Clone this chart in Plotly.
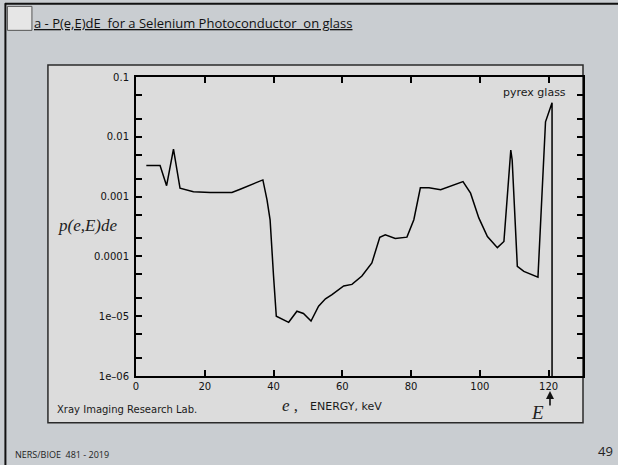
import plotly.graph_objects as go

energy_kev = [3.0, 7.0, 8.9, 10.9, 12.8, 16.7, 21.6, 27.9, 30.3, 36.9, 38.1, 39.0, 40.0,
              40.8, 44.4, 46.8, 48.7, 50.9, 53.1, 55.1, 57.0, 59.2, 60.4, 62.8, 65.7,
              68.6, 70.9, 72.5, 75.4, 78.8, 80.8, 82.7, 85.2, 88.6, 92.5, 95.1, 97.3,
              99.7, 102.2, 105.1, 107.0, 109.0, 109.4, 110.9, 112.8, 116.9, 119.1,
              120.8, 121.0, 121.0]
prob = [3.3e-3, 3.3e-3, 1.52e-3, 6.2e-3, 1.38e-3, 1.21e-3, 1.17e-3, 1.17e-3, 1.33e-3,
        1.9e-3, 8.8e-4, 4.1e-4, 4.7e-5, 1.0e-5, 7.9e-6, 1.21e-5, 1.11e-5, 8.3e-6,
        1.47e-5, 1.95e-5, 2.3e-5, 2.8e-5, 3.2e-5, 3.4e-5, 4.7e-5, 7.8e-5, 2.08e-4,
        2.3e-4, 2.0e-4, 2.1e-4, 4.1e-4, 1.4e-3, 1.4e-3, 1.3e-3, 1.57e-3, 1.78e-3,
        1.14e-3, 4.4e-4, 2.15e-4, 1.4e-4, 1.78e-4, 6.0e-3, 4.1e-3, 6.8e-5, 5.6e-5,
        4.5e-5, 1.78e-2, 3.7e-2, 3.7e-2, 1.0e-6]

x_ticks = [0, 20, 40, 60, 80, 100, 120]
y_tickvals = [1e-6, 1e-5, 1e-4, 1e-3, 1e-2, 1e-1]
y_ticktext = ["1e\u201306", "1e\u201305", "0.0001", "0.001", "0.01", "0.1"]
y_minor_vals = [2e-6, 5e-6, 2e-5, 5e-5, 2e-4, 5e-4, 2e-3, 5e-3, 2e-2, 5e-2]
incident_energy = 120

W, H = 618, 465
L, R, T, B = 136, 35.3, 76.7, 89
PW, PH = W - L - R, H - T - B


def px(x):
    return (x - L) / PW


def py(y):
    return (H - B - y) / PH


fig = go.Figure()
fig.add_trace(go.Scatter(x=energy_kev, y=prob, mode="lines",
                         line=dict(color="black", width=1.5), showlegend=False,
                         hoverinfo="skip"))

axis_common = dict(showline=True, linecolor="black", linewidth=1.6, mirror="allticks",
                   ticks="inside", ticklen=6, tickwidth=2, tickcolor="black",
                   showgrid=False, zeroline=False,
                   tickfont=dict(family="DejaVu Sans", size=10, color="#111111"))

all_y_vals = y_tickvals + y_minor_vals
all_y_text = [t + "\u00a0" for t in y_ticktext] + [""] * len(y_minor_vals)

fig.update_layout(
    xaxis=dict(range=[0, 130], tickvals=x_ticks, **axis_common),
    yaxis=dict(type="log", range=[-6, -1], tickvals=all_y_vals, ticktext=all_y_text,
               **axis_common),
)

shapes = [
    # outer chart panel
    dict(type="rect", xref="paper", yref="paper", x0=px(48), x1=px(582.7), y0=py(422.7),
         y1=py(64.7), fillcolor="#dcdcdc", line=dict(color="#2a2a2a", width=1.5),
         layer="below"),
    # slide frame top and left
    dict(type="line", xref="paper", yref="paper", x0=px(5), x1=px(618), y0=py(3.5),
         y1=py(3.5), line=dict(color="#111", width=2)),
    dict(type="line", xref="paper", yref="paper", x0=px(5.5), x1=px(5.5), y0=py(3),
         y1=py(465), line=dict(color="#111", width=2)),
    # icon
    dict(type="rect", xref="paper", yref="paper", x0=px(7.5), x1=px(32), y0=py(30),
         y1=py(6), fillcolor="#e6e6e6", line=dict(color="#555", width=1)),
]

annotations = [
    dict(text="<u>a - P(e,E)dE  for a Selenium Photoconductor  on glass</u>",
         x=px(32), y=py(23), xanchor="left", yanchor="middle",
         font=dict(family="Open Sans", size=13, color="#111")),
    dict(text="pyrex glass", x=px(534), y=py(92), xanchor="center", yanchor="middle",
         font=dict(family="DejaVu Sans", size=11, color="#1a1a1a")),
    dict(text="<i>p(e,E)de</i>", x=px(88), y=py(225), xanchor="center", yanchor="middle",
         font=dict(family="Liberation Serif", size=17, color="#222")),
    dict(text="Xray Imaging Research Lab.", x=px(55), y=py(410), xanchor="left",
         yanchor="middle", font=dict(family="DejaVu Sans", size=10, color="#1a1a1a")),
    dict(text="<i>e</i> ,", x=px(280), y=py(406), xanchor="left", yanchor="middle",
         font=dict(family="Liberation Serif", size=17, color="#222")),
    dict(text="ENERGY, keV", x=px(308), y=py(407), xanchor="left", yanchor="middle",
         font=dict(family="DejaVu Sans", size=11, color="#1a1a1a")),
    dict(text="<i>E</i>", x=px(537.5), y=py(413), xanchor="center", yanchor="middle",
         font=dict(family="Liberation Serif", size=19, color="#222")),
    dict(text="", x=incident_energy + 0.4, xref="x", y=py(391), yref="paper",
         showarrow=True, ax=0, ay=16, arrowhead=2, arrowsize=1, arrowwidth=1.6,
         arrowcolor="#111", standoff=0),
    dict(text="NERS/BIOE  481 - 2019", x=px(13), y=py(455), xanchor="left",
         yanchor="middle", font=dict(family="Open Sans", size=9, color="#222")),
    dict(text="49", x=px(615), y=py(451), xanchor="right", yanchor="middle",
         font=dict(family="Open Sans", size=13, color="#222")),
]
for a in annotations:
    a.setdefault("xref", "paper")
    a.setdefault("yref", "paper")
    a.setdefault("showarrow", False)

fig.update_layout(width=W, height=H, margin=dict(l=L, r=R, t=T, b=B),
                  paper_bgcolor="#c9cdd1", plot_bgcolor="rgba(0,0,0,0)",
                  shapes=shapes, annotations=annotations)

fig.write_html("out.html", config={"displayModeBar": False})
